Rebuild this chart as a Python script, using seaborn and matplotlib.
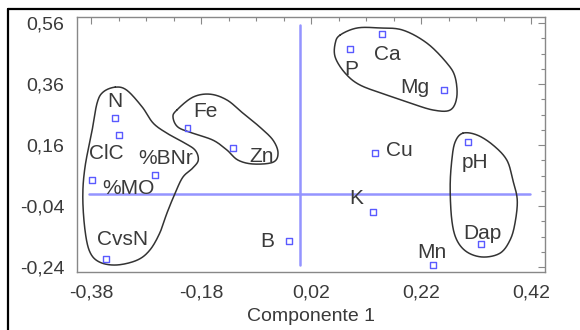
import numpy as np
import pandas as pd
import matplotlib
matplotlib.use("Agg")
import matplotlib.pyplot as plt
from matplotlib.lines import Line2D
from matplotlib.ticker import MultipleLocator, FuncFormatter
import seaborn as sns

# Variáveis e cargas (Componente 1 x Componente 2)
variaveis = ["N", "ClC", "%BNr", "%MO", "CvsN", "Fe", "Zn", "B",
             "P", "Ca", "Mg", "Cu", "K", "pH", "Dap", "Mn"]
comp1 = [-0.336, -0.329, -0.264, -0.378, -0.353, -0.205, -0.122, -0.020,
         0.091, 0.149, 0.262, 0.136, 0.133, 0.305, 0.329, 0.242]
comp2 = [0.249, 0.193, 0.062, 0.045, -0.214, 0.216, 0.150, -0.155,
         0.475, 0.524, 0.340, 0.134, -0.060, 0.170, -0.165, -0.233]

# deslocamento dos rótulos (pontos tipográficos)
offsets = {
    "N": (0, 12), "ClC": (-9, -13), "%BNr": (8, 12), "%MO": (26, -6),
    "CvsN": (12, 14), "Fe": (13, 12), "Zn": (21, -6), "B": (-16, 0),
    "P": (1, -15), "Ca": (4, -15), "Mg": (-21, 2), "Cu": (18, 2),
    "K": (-12, 10), "pH": (5, -15), "Dap": (1, 8), "Mn": (-1, 9),
}

# contornos dos grupos (coordenadas dos componentes)
grupo1_x = [-0.336, -0.315, -0.287, -0.267, -0.242, -0.213, -0.191, -0.185, -0.195, -0.213,
            -0.227, -0.242, -0.255, -0.273, -0.296, -0.333, -0.364, -0.382, -0.391, -0.395,
            -0.391, -0.378, -0.369, -0.358]
grupo1_y = [0.350, 0.340, 0.285, 0.232, 0.199, 0.170, 0.144, 0.111, 0.085, 0.055,
            0.003, -0.063, -0.128, -0.184, -0.217, -0.233, -0.224, -0.191, -0.119, -0.010,
            0.088, 0.209, 0.298, 0.334]
grupo2_x = [-0.224, -0.195, -0.164, -0.133, -0.104, -0.073, -0.049, -0.040,
            -0.049, -0.085, -0.113, -0.133, -0.158, -0.195, -0.222, -0.231]
grupo2_y = [0.275, 0.317, 0.327, 0.308, 0.265, 0.219, 0.176, 0.134,
            0.104, 0.098, 0.111, 0.144, 0.176, 0.199, 0.219, 0.252]
grupo3_x = [0.073, 0.104, 0.145, 0.187, 0.231, 0.267, 0.282, 0.285,
            0.273, 0.242, 0.200, 0.158, 0.109, 0.082, 0.064, 0.064]
grupo3_y = [0.521, 0.544, 0.544, 0.537, 0.494, 0.429, 0.383, 0.317,
            0.275, 0.275, 0.298, 0.324, 0.357, 0.396, 0.448, 0.494]
grupo4_x = [0.296, 0.322, 0.351, 0.376, 0.387, 0.395, 0.391, 0.382,
            0.364, 0.333, 0.304, 0.285, 0.276, 0.273, 0.276, 0.282]
grupo4_y = [0.199, 0.193, 0.160, 0.111, 0.045, -0.020, -0.095, -0.151,
            -0.194, -0.207, -0.191, -0.151, -0.086, 0.022, 0.111, 0.170]


def suavizar(xs, ys, n=20):
    # spline Catmull-Rom fechada
    p = np.column_stack([xs, ys])
    k = len(p)
    out = []
    for i in range(k):
        p0, p1, p2, p3 = p[i - 1], p[i], p[(i + 1) % k], p[(i + 2) % k]
        t = np.linspace(0, 1, n, endpoint=False)[:, None]
        seg = 0.5 * ((2 * p1) + (-p0 + p2) * t + (2 * p0 - 5 * p1 + 4 * p2 - p3) * t ** 2
                     + (-p0 + 3 * p1 - 3 * p2 + p3) * t ** 3)
        out.append(seg)
    out = np.vstack(out + [out[0][:1]])
    return out[:, 0], out[:, 1]


df = pd.DataFrame({"variavel": variaveis, "c1": comp1, "c2": comp2})

sns.set_style("white")
plt.rcParams["font.family"] = ["Liberation Sans", "DejaVu Sans"]

fig = plt.figure(figsize=(5.8, 3.3), dpi=100)
ax = fig.add_axes([0.1328, 0.1758, 0.8069, 0.7727])

texto = "#3a3a3a"
azul = "#9494ff"

# eixos de referência
ax.plot([-0.384, 0.418], [0, 0], color=azul, lw=1.8, zorder=1)
ax.plot([0, 0], [-0.233, 0.553], color=azul, lw=1.8, zorder=1)

for gx, gy in [(grupo1_x, grupo1_y), (grupo2_x, grupo2_y),
               (grupo3_x, grupo3_y), (grupo4_x, grupo4_y)]:
    sx, sy = suavizar(gx, gy)
    ax.plot(sx, sy, color="#333333", lw=1.1, zorder=2)

sns.scatterplot(data=df, x="c1", y="c2", marker="s", s=16, fc="none",
                ec="#5a5aff", linewidth=1.0, ax=ax, zorder=3)

for _, r in df.iterrows():
    ax.annotate(r["variavel"], (r["c1"], r["c2"]), xytext=offsets[r["variavel"]],
                textcoords="offset points", ha="center", va="center",
                fontsize=15, color=texto)

ax.set_xlim(-0.4055, 0.4455)
ax.set_ylim(-0.256, 0.58)
ax.set_xticks([-0.38, -0.18, 0.02, 0.22, 0.42])
ax.set_yticks([-0.24, -0.04, 0.16, 0.36, 0.56])
ax.xaxis.set_minor_locator(MultipleLocator(0.05, offset=0.02))
ax.yaxis.set_minor_locator(MultipleLocator(0.05, offset=0.01))
virgula = FuncFormatter(lambda v, _: f"{v:.2f}".replace(".", ","))
ax.xaxis.set_major_formatter(virgula)
ax.yaxis.set_major_formatter(virgula)

ax.tick_params(which="both", direction="in", top=True, right=True, colors="#888888",
               labelcolor=texto, labelsize=14)
ax.tick_params(which="major", length=5, width=0.8, pad=9)
ax.tick_params(which="minor", length=3, width=0.8)
for s in ax.spines.values():
    s.set_color("#888888")
    s.set_linewidth(1.0)

ax.set_xlabel("Componente 1", fontsize=14, color=texto, labelpad=5)
ax.set_ylabel("")

# moldura externa (topo e esquerda)
fig.add_artist(Line2D([8 / 580, 1], [1 - 9 / 330, 1 - 9 / 330], color="black", lw=1.6,
                      transform=fig.transFigure))
fig.add_artist(Line2D([8 / 580, 8 / 580], [0, 1 - 9 / 330], color="black", lw=1.6,
                      transform=fig.transFigure))

fig.savefig("out.png", dpi=100)
